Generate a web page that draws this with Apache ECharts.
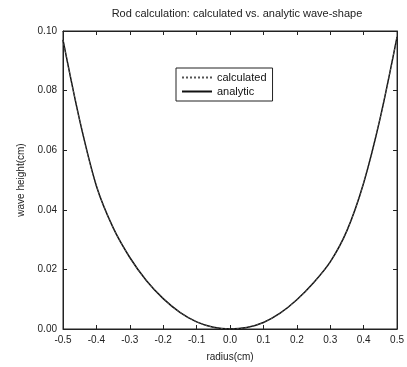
<!DOCTYPE html>
<html><head><meta charset="utf-8">
<script src="https://cdn.jsdelivr.net/npm/echarts@6/dist/echarts.min.js"></script>
<style>html,body{margin:0;padding:0;background:#fff}#c{width:407px;height:367px}</style>
</head><body><div id="c"></div>
<script>
var radius = [-0.50,-0.45,-0.40,-0.35,-0.30,-0.25,-0.20,-0.15,-0.10,-0.05,0.00,0.05,0.10,0.15,0.20,0.25,0.30,0.35,0.40,0.45,0.50];
var calculated = [0.097,0.070,0.048,0.034,0.024,0.0162,0.0102,0.0056,0.0024,0.0006,0.0000,0.0005,0.0022,0.0053,0.0098,0.0155,0.0225,0.033,0.049,0.071,0.098];
var analytic   = [0.097,0.070,0.048,0.034,0.024,0.0162,0.0102,0.0056,0.0024,0.0006,0.0000,0.0005,0.0022,0.0053,0.0098,0.0155,0.0225,0.033,0.049,0.071,0.098];
var seriesNames = ['calculated','analytic'];
var titleText = 'Rod calculation: calculated vs. analytic wave-shape';
var xName = 'radius(cm)';
var yName = 'wave height(cm)';

function pairs(xs, ys){ return xs.map(function(x,i){return [x, ys[i]];}); }
var font = 'Liberation Sans';
var ax = '#222';
var chart = echarts.init(document.getElementById('c'));
chart.setOption({
  animation:false,
  backgroundColor:'#fff',
  title:{text:titleText,left:232,textAlign:'center',top:3,textStyle:{fontFamily:font,fontSize:11,fontWeight:'normal',color:'#222'}},
  grid:{left:63,right:6,top:31,bottom:38,show:true,borderColor:ax,borderWidth:1},
  legend:{orient:'vertical',left:176,top:68,itemWidth:30,itemHeight:8,itemGap:3,padding:[4,6,4,5],
    borderColor:ax,borderWidth:1,backgroundColor:'#fff',itemStyle:{opacity:0},
    textStyle:{fontFamily:font,fontSize:11,color:'#111'},data:seriesNames},
  xAxis:[{type:'value',min:-0.5,max:0.5,interval:0.1,name:xName,nameLocation:'middle',nameGap:23,
      nameTextStyle:{fontFamily:font,fontSize:10,color:'#222'},
      axisLine:{show:true,onZero:false,lineStyle:{color:ax}},axisTick:{inside:true,length:4,lineStyle:{color:ax}},
      splitLine:{show:false},
      axisLabel:{fontFamily:font,fontSize:10,color:'#222',margin:6,formatter:function(v){return v.toFixed(1);}}},
    {type:'value',position:'top',min:-0.5,max:0.5,interval:0.1,axisLine:{show:true,onZero:false,lineStyle:{color:ax}},
      axisTick:{inside:true,length:4,lineStyle:{color:ax}},axisLabel:{show:false},splitLine:{show:false}}],
  yAxis:[{type:'value',min:0,max:0.1,interval:0.02,name:yName,nameLocation:'middle',nameGap:36,
      nameTextStyle:{fontFamily:font,fontSize:10,color:'#222'},
      axisLine:{show:true,onZero:false,lineStyle:{color:ax}},axisTick:{inside:true,length:4,lineStyle:{color:ax}},
      splitLine:{show:false},
      axisLabel:{fontFamily:font,fontSize:10,color:'#222',margin:6,formatter:function(v){return v.toFixed(2);}}},
    {type:'value',position:'right',min:0,max:0.1,interval:0.02,axisLine:{show:true,onZero:false,lineStyle:{color:ax}},
      axisTick:{inside:true,length:4,lineStyle:{color:ax}},axisLabel:{show:false},splitLine:{show:false}}],
  series:[
    {name:seriesNames[1],type:'line',data:pairs(radius,analytic),smooth:0.3,symbol:'none',
      lineStyle:{color:'#111',width:1.5},itemStyle:{color:'#111'},z:2},
    {name:seriesNames[0],type:'line',data:pairs(radius,calculated),smooth:0.3,symbol:'none',
      lineStyle:{color:'#555',width:1,type:[2,2]},itemStyle:{color:'#555'},z:3}
  ]
});
</script></body></html>
